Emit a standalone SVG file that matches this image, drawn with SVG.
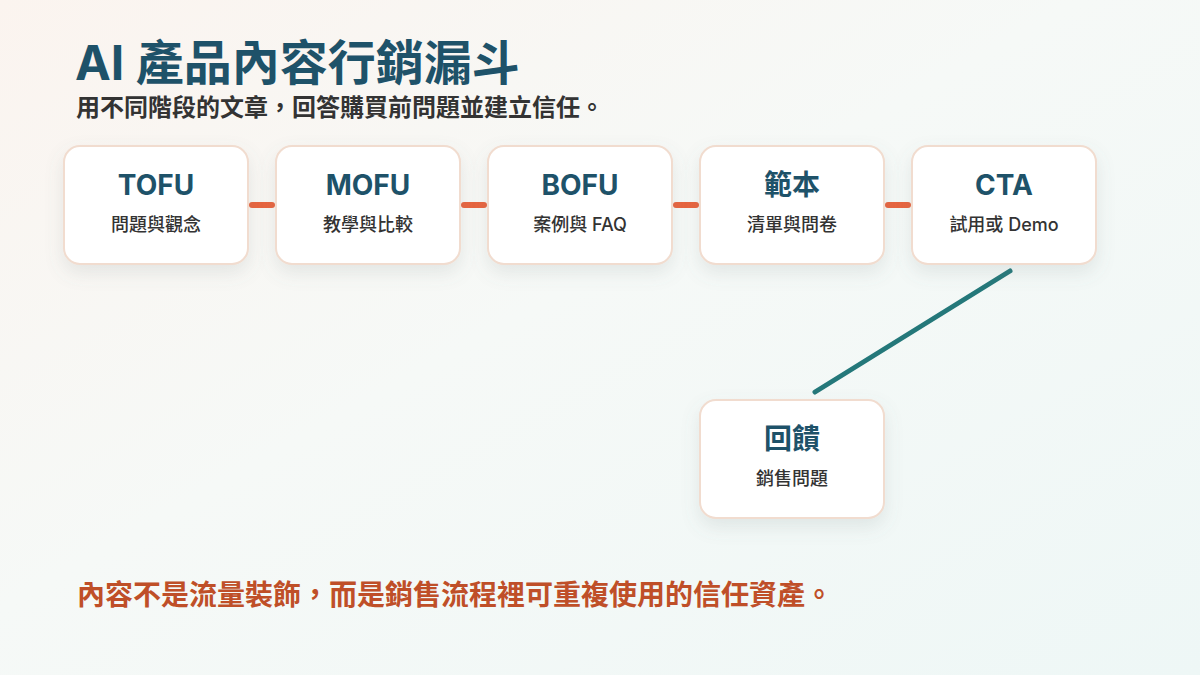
<svg xmlns="http://www.w3.org/2000/svg" width="1200" height="675" viewBox="0 0 1200 675">
<defs>
<linearGradient id="bg" x1="0" y1="0" x2="1" y2="1">
<stop offset="0" stop-color="#fbf4ef"/>
<stop offset="0.45" stop-color="#f6f9f7"/>
<stop offset="1" stop-color="#eef7f6"/>
</linearGradient>
<filter id="sh" x="-20%" y="-20%" width="140%" height="160%">
<feDropShadow dx="0" dy="8" stdDeviation="9" flood-color="#6d7f80" flood-opacity="0.15"/>
</filter>
<style>
.box{fill:#ffffff;stroke:#f1dccf;stroke-width:2;filter:url(#sh)}
.t{font-family:"Inter","Noto Sans CJK TC","Noto Sans CJK SC",sans-serif;font-weight:700;font-size:28px;fill:#1e5269;text-anchor:middle}
.s{font-family:"Inter","Noto Sans CJK TC","Noto Sans CJK SC",sans-serif;font-weight:500;font-size:18px;fill:#333;text-anchor:middle}
.oc{stroke:#e8643f;stroke-width:6;stroke-linecap:round}
</style>
</defs>
<rect width="1200" height="675" fill="url(#bg)"/>
<text x="75" y="80" font-family="Inter,'Noto Sans CJK TC',sans-serif" font-weight="700" font-size="48" fill="#1e5269">AI 產品內容行銷漏斗</text>
<text x="76" y="116" font-family="Inter,'Noto Sans CJK TC',sans-serif" font-weight="700" font-size="24" fill="#333">用不同階段的文章，回答購買前問題並建立信任。</text>
<g id="connectors">
<line class="oc" x1="252" y1="205" x2="272" y2="205"/>
<line class="oc" x1="464" y1="205" x2="484" y2="205"/>
<line class="oc" x1="676" y1="205" x2="696" y2="205"/>
<line class="oc" x1="888" y1="205" x2="908" y2="205"/>
<line x1="1010" y1="271" x2="815" y2="392" stroke="#24787a" stroke-width="5" stroke-linecap="round"/>
</g>
<g id="tofu"><rect class="box" x="64" y="146" width="184" height="118" rx="16"/><text class="t" x="156" y="195">TOFU</text><text class="s" x="156" y="231">問題與觀念</text></g>
<g id="mofu"><rect class="box" x="276" y="146" width="184" height="118" rx="16"/><text class="t" x="368" y="195">MOFU</text><text class="s" x="368" y="231">教學與比較</text></g>
<g id="bofu"><rect class="box" x="488" y="146" width="184" height="118" rx="16"/><text class="t" x="580" y="195">BOFU</text><text class="s" x="580" y="231">案例與 FAQ</text></g>
<g id="template"><rect class="box" x="700" y="146" width="184" height="118" rx="16"/><text class="t" x="792" y="195">範本</text><text class="s" x="792" y="231">清單與問卷</text></g>
<g id="cta"><rect class="box" x="912" y="146" width="184" height="118" rx="16"/><text class="t" x="1004" y="195">CTA</text><text class="s" x="1004" y="231">試用或 Demo</text></g>
<g id="feedback"><rect class="box" x="700" y="400" width="184" height="118" rx="16"/><text class="t" x="792" y="449">回饋</text><text class="s" x="792" y="485">銷售問題</text></g>
<text x="77" y="605" font-family="Inter,'Noto Sans CJK TC',sans-serif" font-weight="700" font-size="28" fill="#bf4f28">內容不是流量裝飾，而是銷售流程裡可重複使用的信任資產。</text>
</svg>
